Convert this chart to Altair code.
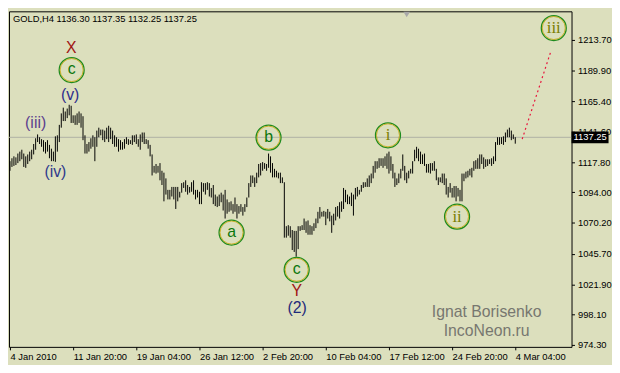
import json
import altair as alt
import pandas as pd

# ---------------- data ----------------
symbol = "GOLD,H4"
last_ohlc = [1136.30, 1137.35, 1132.25, 1137.25]

highs = [
    1118.5, 1120.8, 1122.3, 1121.5, 1124.5, 1126.0, 1127.5, 1124.5, 1122.3, 1123.8,
    1126.0, 1127.5, 1132.0, 1136.5, 1139.5, 1137.3, 1135.8, 1135.0, 1133.5, 1135.0,
    1131.3, 1128.3, 1126.0, 1138.0, 1138.8, 1147.0, 1156.0, 1160.5, 1157.5, 1159.8,
    1162.8, 1162.0,
    1154.5, 1154.5, 1156.0, 1157.5, 1156.0, 1153.8, 1138.8, 1132.0, 1133.5, 1136.5,
    1138.8, 1137.3, 1142.5, 1144.8, 1143.3, 1143.3, 1142.5, 1144.8, 1146.3, 1144.8,
    1142.5, 1138.8, 1137.3, 1135.8, 1135.0, 1133.5, 1135.8, 1137.3, 1135.8, 1135.0,
    1138.8,
    1138.8, 1139.5, 1135.8, 1139.5, 1141.0, 1141.0, 1135.8, 1135.0, 1131.3, 1123.8,
    1114.8, 1116.3, 1114.8, 1117.0, 1111.0, 1109.5, 1105.0, 1096.0, 1096.0, 1098.3,
    1098.3, 1098.3, 1098.3, 1094.5, 1101.3, 1102.0, 1103.5, 1099.8, 1098.3, 1102.0,
    1103.5, 1096.0,
    1096.0, 1094.5, 1102.0, 1101.3, 1101.3, 1102.0, 1101.3, 1097.5, 1099.8, 1092.3,
    1090.8, 1092.3, 1093.8, 1092.3, 1096.0, 1088.5, 1086.3, 1087.0, 1084.8, 1090.0,
    1084.8, 1083.3, 1084.8, 1082.5, 1084.8, 1090.0, 1101.3, 1107.3, 1107.3, 1105.8,
    1109.5, 1116.3,
    1117.0, 1117.8, 1117.0, 1116.3, 1124.5, 1122.3, 1117.0, 1112.5, 1111.0, 1109.5,
    1109.5, 1105.8, 1102.0, 1067.5, 1068.3, 1067.5, 1064.5, 1063.8, 1063.8, 1067.5,
    1067.5, 1068.3, 1073.5, 1071.3, 1072.0, 1068.3, 1067.5, 1069.8, 1073.5, 1078.8,
    1082.5, 1078.8, 1079.5,
    1078.8, 1081.0, 1078.8, 1075.8, 1077.3, 1082.5, 1083.3, 1086.3, 1087.0, 1097.5,
    1096.0, 1092.3, 1090.8, 1093.8, 1092.3, 1097.5, 1098.3, 1096.0, 1099.8, 1102.0,
    1102.0, 1105.0, 1107.3, 1108.8, 1114.8, 1118.5, 1118.5, 1120.8, 1120.8, 1120.8,
    1122.3, 1124.5, 1126.0, 1122.3, 1116.3, 1109.5, 1105.0, 1108.8, 1112.5, 1123.8,
    1114.8, 1109.5, 1111.0, 1112.5, 1118.5, 1127.5, 1129.8, 1128.3, 1126.0, 1123.8,
    1124.5, 1116.3, 1116.3, 1117.0, 1117.0, 1118.5, 1112.5, 1105.8, 1105.8, 1108.8,
    1108.8, 1105.0, 1098.3, 1101.3, 1097.5, 1099.0, 1099.0, 1097.5, 1096.0, 1108.8,
    1108.8, 1110.3, 1111.0, 1112.5, 1113.3, 1118.5, 1119.3, 1120.8, 1123.8, 1123.8,
    1121.5, 1120.0, 1120.0, 1120.0, 1120.8, 1122.3, 1133.5, 1137.3, 1137.3, 1137.3,
    1138.0, 1141.0, 1143.3, 1144.8, 1142.5, 1139.5, 1137.35,
]

lows = [
    1111.0, 1114.0, 1114.8, 1115.5, 1117.0, 1118.5, 1120.0, 1114.0, 1113.3, 1116.3,
    1118.5, 1120.0, 1123.8, 1127.5, 1133.5, 1132.0, 1129.8, 1126.0, 1124.5, 1126.0,
    1120.8, 1118.5, 1118.5, 1118.0, 1126.0, 1133.5, 1144.8, 1150.0, 1150.0, 1152.3,
    1154.5, 1148.5,
    1148.5, 1147.0, 1147.0, 1148.5, 1144.8, 1135.0, 1124.5, 1124.5, 1126.0, 1128.3,
    1129.8, 1118.5, 1129.8, 1137.3, 1138.8, 1135.0, 1133.5, 1135.8, 1133.5, 1135.8,
    1132.0, 1129.8, 1129.8, 1126.0, 1127.5, 1127.5, 1128.3, 1132.0, 1131.3, 1132.0,
    1131.3,
    1133.5, 1132.0, 1129.8, 1127.5, 1133.5, 1132.0, 1132.0, 1128.3, 1122.3, 1107.3,
    1109.5, 1108.8, 1109.5, 1103.5, 1099.8, 1087.0, 1092.3, 1088.5, 1088.5, 1090.8,
    1088.5, 1081.0, 1087.0, 1090.0, 1093.8, 1097.5, 1094.5, 1092.3, 1093.8, 1094.5,
    1092.3, 1088.5,
    1090.0, 1084.8, 1084.8, 1094.5, 1092.3, 1096.0, 1090.8, 1090.0, 1084.8, 1083.3,
    1082.5, 1083.3, 1086.3, 1079.8, 1073.5, 1077.3, 1078.8, 1079.8, 1077.3, 1078.8,
    1073.5, 1077.3, 1078.8, 1075.8, 1078.8, 1082.5, 1090.0, 1098.3, 1101.3, 1098.3,
    1101.3, 1105.8,
    1107.3, 1111.0, 1112.5, 1111.0, 1113.3, 1109.5, 1105.8, 1105.8, 1105.8, 1105.0,
    1101.3, 1101.3, 1058.5, 1058.5, 1060.0, 1058.5, 1048.8, 1047.3, 1043.5, 1049.5,
    1063.8, 1064.5, 1064.5, 1062.3, 1060.8, 1060.8, 1060.8, 1063.8, 1066.0, 1069.8,
    1073.5, 1075.0, 1075.0,
    1068.3, 1073.5, 1071.3, 1062.3, 1068.3, 1072.0, 1075.0, 1073.5, 1078.8, 1081.0,
    1086.3, 1084.8, 1084.8, 1083.3, 1075.8, 1088.5, 1090.8, 1092.3, 1094.5, 1097.5,
    1098.3, 1098.3, 1098.3, 1101.3, 1105.0, 1109.5, 1112.5, 1113.3, 1114.8, 1113.3,
    1114.8, 1112.5, 1108.8, 1111.0, 1105.0, 1098.3, 1099.8, 1101.3, 1105.0, 1111.0,
    1103.5, 1101.3, 1105.0, 1108.8, 1108.8, 1118.5, 1120.8, 1118.5, 1116.3, 1116.3,
    1114.8, 1109.5, 1109.5, 1108.8, 1111.0, 1111.0, 1103.5, 1099.8, 1102.0, 1101.3,
    1099.8, 1092.3, 1090.0, 1093.8, 1090.0, 1090.0, 1087.0, 1090.8, 1087.0, 1087.0,
    1102.8, 1105.0, 1105.8, 1107.3, 1105.8, 1111.0, 1112.5, 1112.5, 1112.5, 1116.3,
    1112.5, 1114.0, 1114.8, 1116.3, 1114.8, 1116.3, 1118.5, 1131.3, 1131.3, 1132.0,
    1131.3, 1133.5, 1137.3, 1137.3, 1135.0, 1135.8, 1132.25,
]

time_labels = ["4 Jan 2010", "11 Jan 20:00", "19 Jan 04:00", "26 Jan 12:00",
               "2 Feb 20:00", "10 Feb 04:00", "17 Feb 12:00", "24 Feb 20:00",
               "4 Mar 04:00"]
time_ticks = [0, 32, 64, 96, 128, 160, 192, 224, 256]
price_ticks = [974.30, 998.10, 1021.90, 1045.70, 1070.20, 1094.00,
               1117.80, 1141.60, 1165.40, 1189.90, 1213.70]

# wave labels without circle
wave_text = ["X", "(v)", "(iii)", "(iv)", "Y", "(2)"]
wave_bar = [31.0, 30.5, 13.0, 23.0, 145.25, 145.5]
wave_price = [1207.6, 1170.2, 1148.5, 1109.6, 1016.9, 1003.4]
wave_color = ["#A01414", "#2E2E8C", "#5B3E8E", "#2E3A8C", "#A01414", "#1F2A7A"]

# circled wave labels
circ_text = ["c", "a", "b", "c", "i", "ii", "iii"]
circ_bar = [31.25, 112.25, 131.0, 145.25, 191.5, 226.5, 275.5]
circ_price = [1190.0, 1062.5, 1137.0, 1033.3, 1138.8, 1075.0, 1223.0]
circ_serif = [False, False, False, False, True, True, True]

# projected path to wave iii
fc_bar = [259.5, 274.0]
fc_price = [1135.8, 1204.6]

watermark = ["Ignat Borisenko", "IncoNeon.ru"]
wm_bar = [241.5, 241.5]
wm_price = [1000.0, 985.5]

# ---------------- styling ----------------
BG = "#DCDFBD"
FONT = "Liberation Sans"
GREEN = "#1E8B1E"
GOLD = "#C8A400"

xs = alt.Scale(domain=[-0.5, 284.5], nice=False, zero=False)
ys = alt.Scale(domain=[972.8, 1236.1], nice=False, zero=False)

label_expr = json.dumps(time_labels) + "[round(datum.value / 32)]"

x_axis = alt.Axis(values=time_ticks, labelExpr=label_expr, labelAlign="left",
                  labelBaseline="top", labelPadding=2, tickSize=3,
                  tickColor="black", labelColor="black", labelFont=FONT,
                  labelFontSize=9.5, grid=False, domain=False,
                  labelOverlap=False, labelFlush=False)
y_axis = alt.Axis(orient="right", values=price_ticks, format=".2f", tickSize=3,
                  tickColor="black", labelColor="black", labelFont=FONT,
                  labelFontSize=9.5, labelPadding=3, grid=False, domain=False,
                  labelOverlap=False, labelFlush=False)


def X(field):
    return alt.X(field, type="quantitative", scale=xs, axis=x_axis, title=None)


def Y(field):
    return alt.Y(field, type="quantitative", scale=ys, axis=y_axis, title=None)


bars = pd.DataFrame({"bar": list(range(len(highs))), "high": highs, "low": lows})

price_line = alt.Chart(pd.DataFrame({"p": [last_ohlc[3]]})).mark_rule(
    color="#AEB0A4", strokeWidth=1).encode(y=Y("p"))

bar_layer = alt.Chart(bars).mark_rule(color="black", strokeWidth=1).encode(
    x=X("bar"), y=Y("low"), y2="high:Q",
)

forecast = alt.Chart(pd.DataFrame({"bar": fc_bar, "p": fc_price})).mark_line(
    color="#E8143C", strokeDash=[2, 3], strokeWidth=1.2).encode(x=X("bar"), y=Y("p"))

box_df = pd.DataFrame({"b0": [284.5], "b1": [303.25],
                       "p0": [last_ohlc[3] - 4.6], "p1": [last_ohlc[3] + 4.6],
                       "bt": [285.0], "p": [last_ohlc[3]],
                       "t": ["%.2f" % last_ohlc[3]]})
box = alt.Chart(box_df).mark_rect(color="black", clip=False).encode(
    x=X("b0"), x2="b1", y=Y("p0"), y2="p1")
box_text = alt.Chart(box_df).mark_text(
    align="left", baseline="middle", color="white", font=FONT, fontSize=9.5,
    dx=1).encode(x=X("bt"), y=Y("p"), text="t:N")

waves = alt.Chart(pd.DataFrame({"bar": wave_bar, "p": wave_price, "t": wave_text,
                                "c": wave_color})).mark_text(
    align="center", baseline="middle", font=FONT, fontSize=16).encode(
    x=X("bar"), y=Y("p"), text="t:N", color=alt.Color("c:N", scale=None))

circ_df = pd.DataFrame({"bar": circ_bar, "p": circ_price, "t": circ_text,
                        "serif": circ_serif})
ring_outer = alt.Chart(circ_df).mark_point(
    shape="circle", size=640, filled=False, stroke=GREEN, strokeWidth=1.3,
    opacity=1).encode(x=X("bar"), y=Y("p"))
ring_inner = alt.Chart(circ_df).mark_point(
    shape="circle", size=545, filled=False, stroke=GOLD, strokeWidth=0.9,
    opacity=0.85).encode(x=X("bar"), y=Y("p"))
circ_sans = alt.Chart(circ_df).transform_filter("!datum.serif").mark_text(
    align="center", baseline="middle", font=FONT, fontSize=16, color="#0B760B",
    dy=-1).encode(x=X("bar"), y=Y("p"), text="t:N")
circ_roman = alt.Chart(circ_df).transform_filter("datum.serif").mark_text(
    align="center", baseline="middle", font="Liberation Serif", fontSize=17,
    color="#7A7D00", dy=0).encode(x=X("bar"), y=Y("p"), text="t:N")

wm = alt.Chart(pd.DataFrame({"bar": wm_bar, "p": wm_price, "t": watermark})).mark_text(
    align="center", baseline="middle", font=FONT, fontSize=16, color="#777770").encode(
    x=X("bar"), y=Y("p"), text="t:N")

header_text = symbol + "  " + " ".join("%.2f" % v for v in last_ohlc)
header = alt.Chart(pd.DataFrame({"bar": [1.5], "p": [1230.3], "t": [header_text]})).mark_text(
    align="left", baseline="middle", font=FONT, fontSize=9.5, color="black").encode(
    x=X("bar"), y=Y("p"), text="t:N")

marker = alt.Chart(pd.DataFrame({"bar": [201.0], "p": [1233.6]})).mark_point(
    shape="triangle-down", size=45, filled=True, color="#A8A8A8", opacity=1).encode(
    x=X("bar"), y=Y("p"))

chart = alt.layer(
    price_line, bar_layer, forecast, box, box_text, waves,
    ring_outer, ring_inner, circ_sans, circ_roman, wm, header, marker,
).properties(
    width=570, height=340, background=BG,
    autosize=alt.AutoSizeParams(type="none"),
    padding={"left": 1, "top": 1, "right": 41, "bottom": 16},
).configure_view(
    stroke="black", strokeWidth=1
).configure_axis(labelOverlap=False)

chart.save("out.html", embed_options={"renderer": "svg", "actions": False})
